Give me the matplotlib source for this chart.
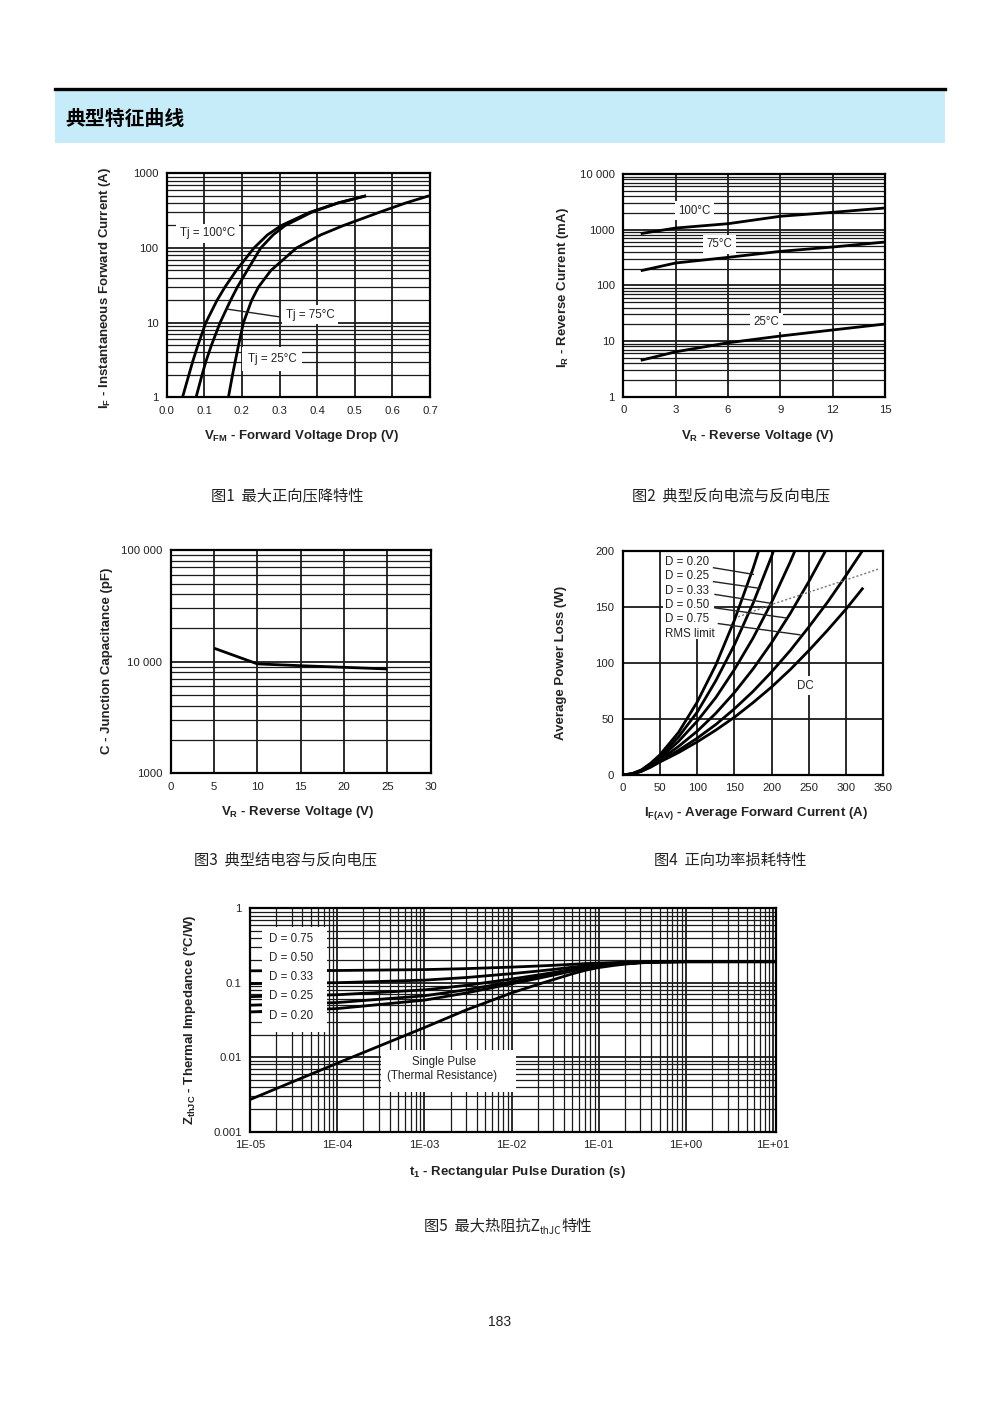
import matplotlib
matplotlib.use("Agg")
import matplotlib.pyplot as plt
from matplotlib.patches import Rectangle
from matplotlib.lines import Line2D
from matplotlib.ticker import LogLocator, FixedLocator, FixedFormatter, NullFormatter

plt.rcParams['font.family'] = ['Liberation Sans', 'DejaVu Sans']
plt.rcParams['mathtext.fontset'] = 'custom'
plt.rcParams['mathtext.rm'] = 'Liberation Sans:bold'
plt.rcParams['mathtext.it'] = 'Liberation Sans:bold'
plt.rcParams['mathtext.bf'] = 'Liberation Sans:bold'
plt.rcParams['mathtext.default'] = 'rm'
CJK = ['Noto Sans CJK SC', 'DejaVu Sans']

# ---------------- data ----------------
# Fig 1: forward characteristic
if_pts = [1, 2, 3, 5, 10, 20, 30, 50, 100, 150, 200, 300, 400, 500]
vf_100 = [0.042, 0.059, 0.069, 0.083, 0.104, 0.134, 0.155, 0.185, 0.232, 0.268, 0.305, 0.380, 0.455, 0.530]
vf_75 = [0.078, 0.094, 0.104, 0.119, 0.142, 0.170, 0.188, 0.214, 0.250, 0.283, 0.315, 0.385, 0.455, 0.530]
vf_25 = [0.164, 0.175, 0.182, 0.191, 0.204, 0.226, 0.244, 0.277, 0.345, 0.410, 0.470, 0.565, 0.635, 0.698]
fig1_xticks = [0.0, 0.1, 0.2, 0.3, 0.4, 0.5, 0.6, 0.7]
fig1_xlabels = ["0.0", "0.1", "0.2", "0.3", "0.4", "0.5", "0.6", "0.7"]
fig1_yticks = [1, 10, 100, 1000]
fig1_ylabels = ["1", "10", "100", "1000"]

# Fig 2: reverse current
vr2 = [1, 3, 6, 9, 12, 15]
ir_100 = [850, 1070, 1280, 1740, 2050, 2450]
ir_75 = [183, 252, 318, 408, 488, 600]
ir_25 = [4.5, 6.4, 9.3, 12.3, 15.8, 20.2]
fig2_xticks = [0, 3, 6, 9, 12, 15]
fig2_yticks = [1, 10, 100, 1000, 10000]
fig2_ylabels = ["1", "10", "100", "1000", "10 000"]

# Fig 3: junction capacitance
vr3 = [5, 10, 15, 20, 25]
cj = [13200, 9550, 9200, 8900, 8600]
fig3_xticks = [0, 5, 10, 15, 20, 25, 30]
fig3_yticks = [1000, 10000, 100000]
fig3_ylabels = ["1000", "10 000", "100 000"]

# Fig 4: power loss
i_av = [0, 12.5, 25, 37.5, 50, 75, 100, 125, 150, 175, 200, 225, 250, 275, 300, 325]
p_d20 = [0, 1.2, 4.5, 10.5, 18.0, 38.0, 65.0, 98.0, 138.0, 184.0, 236.0]
p_d25 = [0, 1.1, 4.2, 9.5, 16.5, 34.0, 56.0, 84.0, 116.0, 153.0, 195.0, 243.0]
p_d33 = [0, 1.0, 3.9, 8.6, 15.0, 30.0, 48.0, 69.0, 94.0, 122.0, 154.0, 190.0, 229.0]
p_d50 = [0, 0.9, 3.6, 7.8, 13.5, 25.5, 39.0, 55.0, 73.5, 94.5, 118.0, 144.0, 172.5, 203.0]
p_d75 = [0, 0.85, 3.4, 7.3, 12.3, 22.0, 32.8, 45.0, 59.0, 74.5, 92.0, 111.0, 132.0, 154.0, 178.0, 203.0]
i_dc = [0, 12.5, 25, 37.5, 50, 75, 100, 125, 150, 175, 200, 225, 250, 275, 300, 323]
p_dc = [0, 0.8, 3.2, 7.0, 11.6, 20.0, 29.5, 40.0, 51.5, 64.5, 78.5, 94.0, 111.0, 129.0, 148.0, 167.0]
i_rms = [155, 200, 250, 300, 345]
p_rms = [141, 152, 163, 174, 184]
duty_labels = ["D = 0.20", "D = 0.25", "D = 0.33", "D = 0.50", "D = 0.75"]
fig4_ticks_x = [0, 50, 100, 150, 200, 250, 300, 350]
fig4_ticks_y = [0, 50, 100, 150, 200]

# Fig 5: thermal impedance
t_p = [1e-5, 1e-4, 1e-3, 3e-3, 1e-2, 2e-2, 3e-2, 5e-2, 7e-2, 0.1, 0.15, 0.2, 0.3, 0.5, 1.0, 10.8]
z_single = [0.0027, 0.0083, 0.025, 0.043, 0.073, 0.095, 0.110, 0.132, 0.147, 0.160, 0.171, 0.178, 0.185, 0.190, 0.192, 0.192]
z_d75 = [0.1447, 0.1461, 0.1503, 0.1548, 0.1623, 0.1678, 0.1715, 0.1770, 0.1808, 0.1840, 0.1868, 0.1885, 0.1903, 0.1915, 0.192, 0.192]
z_d50 = [0.0974, 0.1002, 0.1085, 0.1175, 0.1325, 0.1435, 0.1510, 0.1620, 0.1695, 0.1760, 0.1815, 0.1850, 0.1885, 0.1910, 0.192, 0.192]
z_d33 = [0.0652, 0.0690, 0.0802, 0.0922, 0.1123, 0.1270, 0.1371, 0.1518, 0.1619, 0.1706, 0.1780, 0.1827, 0.1874, 0.1907, 0.192, 0.192]
z_d25 = [0.0500, 0.0542, 0.0668, 0.0803, 0.1028, 0.1193, 0.1305, 0.1470, 0.1583, 0.1680, 0.1763, 0.1815, 0.1868, 0.1905, 0.192, 0.192]
z_d20 = [0.0406, 0.0450, 0.0584, 0.0728, 0.0968, 0.1144, 0.1264, 0.1440, 0.1560, 0.1664, 0.1752, 0.1808, 0.1864, 0.1904, 0.192, 0.192]
legend5 = ["D = 0.75", "D = 0.50", "D = 0.33", "D = 0.25", "D = 0.20"]
fig5_xticks = [1e-5, 1e-4, 1e-3, 1e-2, 1e-1, 1, 10]
fig5_xlabels = ["1E-05", "1E-04", "1E-03", "1E-02", "1E-01", "1E+00", "1E+01"]
fig5_yticks = [0.001, 0.01, 0.1, 1]
fig5_ylabels = ["0.001", "0.01", "0.1", "1"]

captions = ["图1  最大正向压降特性", "图2  典型反向电流与反向电压", "图3  典型结电容与反向电压", "图4  正向功率损耗特性"]

# ---------------- figure ----------------
W, H = 1000, 1414
fig = plt.figure(figsize=(W / 100, H / 100), dpi=100)


def P(x, y):
    return x / W, 1 - y / H


def add_ax(x0, y0, x1, y1):
    ax = fig.add_axes([x0 / W, 1 - y1 / H, (x1 - x0) / W, (y1 - y0) / H])
    for s in ax.spines.values():
        s.set_linewidth(1.6)
        s.set_color('black')
        s.set_zorder(6)
    ax.tick_params(which='both', length=0, pad=6, labelsize=8.2, colors='#222222')
    ax.set_axisbelow(True)
    return ax


GMAJ = dict(color='#1a1a1a', lw=1.3)
GMIN = dict(color='#1a1a1a', lw=0.9)
CURVE = dict(color='black', lw=2.0, zorder=3, solid_capstyle='butt', solid_joinstyle='round')
LBL = dict(fontsize=9.5, fontweight='bold', color='#222222')
TXT = dict(fontsize=8.3, color='#222222')

# header
fig.add_artist(Rectangle(P(55, 143), 890 / W, 53 / H, transform=fig.transFigure,
                         facecolor='#c6ecf9', edgecolor='none'))
fig.add_artist(Line2D([55 / W, 945 / W], [1 - 88.5 / H] * 2, transform=fig.transFigure,
                      color='black', lw=2.4))
fig.text(*P(65, 118), "典型特征曲线", family=CJK, fontsize=14.3, fontweight='bold', va='center', ha='left')

# ---- Fig 1 ----
ax1 = add_ax(166.7, 173.3, 430, 397.3)
ax1.set_yscale('log')
ax1.set_xlim(0, 0.7)
ax1.set_ylim(1, 1000)
ax1.xaxis.set_major_locator(FixedLocator(fig1_xticks))
ax1.xaxis.set_major_formatter(FixedFormatter(fig1_xlabels))
ax1.yaxis.set_major_locator(FixedLocator(fig1_yticks))
ax1.yaxis.set_major_formatter(FixedFormatter(fig1_ylabels))
ax1.yaxis.set_minor_locator(LogLocator(base=10, subs=range(2, 10)))
ax1.yaxis.set_minor_formatter(NullFormatter())
ax1.grid(which='major', **GMAJ)
ax1.grid(which='minor', axis='y', **GMIN)
ax1.plot(vf_100, if_pts, **CURVE)
ax1.plot(vf_75, if_pts, **CURVE)
ax1.plot(vf_25, if_pts, **CURVE)
box = dict(facecolor='white', edgecolor='none', pad=2.5)
ax1.text(0.035, 158, "Tj = 100°C", va='center', ha='left', bbox=box, zorder=4, **TXT)
ax1.text(0.317, 12.7, "Tj = 75°C", va='center', ha='left', bbox=box, zorder=4, **TXT)
ax1.text(0.216, 3.26, "Tj = 25°C", va='center', ha='left',
         bbox=dict(facecolor='white', edgecolor='none', pad=4), zorder=4, **TXT)
ax1.plot([0.160, 0.297], [15.2, 12.0], color='#222222', lw=1.0, zorder=4)

fig.text(*P(105, 288), r"I$_F$ - Instantaneous Forward Current (A)", rotation=90, ha='center', va='center', **LBL)
fig.text(*P(302, 436), r"V$_{FM}$ - Forward Voltage Drop (V)", ha='center', va='center', **LBL)

# ---- Fig 2 ----
ax2 = add_ax(623.3, 174, 885, 396.7)
ax2.set_yscale('log')
ax2.set_xlim(0, 15)
ax2.set_ylim(1, 10000)
ax2.xaxis.set_major_locator(FixedLocator(fig2_xticks))
ax2.yaxis.set_major_locator(FixedLocator(fig2_yticks))
ax2.yaxis.set_major_formatter(FixedFormatter(fig2_ylabels))
ax2.yaxis.set_minor_locator(LogLocator(base=10, subs=range(2, 10)))
ax2.yaxis.set_minor_formatter(NullFormatter())
ax2.grid(which='major', **GMAJ)
ax2.grid(which='minor', axis='y', **GMIN)
ax2.plot(vr2, ir_100, **CURVE)
ax2.plot(vr2, ir_75, **CURVE)
ax2.plot(vr2, ir_25, **CURVE)
ax2.text(3.15, 2190, "100°C", va='center', ha='left', bbox=box, zorder=4, **TXT)
ax2.text(4.78, 546, "75°C", va='center', ha='left', bbox=box, zorder=4, **TXT)
ax2.text(7.45, 21.7, "25°C", va='center', ha='left', bbox=box, zorder=4, **TXT)
fig.text(*P(563, 288), r"I$_R$ - Reverse Current (mA)", rotation=90, ha='center', va='center', **LBL)
fig.text(*P(758, 436), r"V$_R$ - Reverse Voltage (V)", ha='center', va='center', **LBL)

# ---- Fig 3 ----
ax3 = add_ax(170.7, 550, 430.7, 773.3)
ax3.set_yscale('log')
ax3.set_xlim(0, 30)
ax3.set_ylim(1000, 100000)
ax3.xaxis.set_major_locator(FixedLocator(fig3_xticks))
ax3.yaxis.set_major_locator(FixedLocator(fig3_yticks))
ax3.yaxis.set_major_formatter(FixedFormatter(fig3_ylabels))
ax3.yaxis.set_minor_locator(LogLocator(base=10, subs=range(2, 10)))
ax3.yaxis.set_minor_formatter(NullFormatter())
ax3.grid(which='major', **GMAJ)
ax3.grid(which='minor', axis='y', **GMIN)
ax3.plot(vr3, cj, **CURVE)
fig.text(*P(107, 661), "C - Junction Capacitance (pF)", rotation=90, ha='center', va='center', **LBL)
fig.text(*P(298, 812), r"V$_R$ - Reverse Voltage (V)", ha='center', va='center', **LBL)

# ---- Fig 4 ----
ax4 = add_ax(622.7, 550.7, 883.3, 775)
ax4.set_xlim(0, 350)
ax4.set_ylim(0, 200)
ax4.xaxis.set_major_locator(FixedLocator(fig4_ticks_x))
ax4.yaxis.set_major_locator(FixedLocator(fig4_ticks_y))
ax4.grid(which='major', **GMAJ)
for pv in [p_d20, p_d25, p_d33, p_d50, p_d75]:
    ax4.plot(i_av[:len(pv)], pv, **CURVE)
ax4.plot(i_dc, p_dc, **CURVE)
ax4.plot(i_rms, p_rms, color='#777777', lw=1.0, ls=(0, (1.5, 1.5)), zorder=3)
ax4.add_patch(Rectangle((54, 121), 68, 79, facecolor='white', edgecolor='none', zorder=2.8))
lab_y = [190, 177, 164.5, 151.5, 139.5]
lead_start = [(122, 184.8), (122, 172.4), (124, 161), (124, 149), (128.5, 135)]
lead_end = [(175.5, 178.9), (184.4, 166.4), (200, 153), (220, 140), (238, 125)]
for lbl, yy, s, e in zip(duty_labels, lab_y, lead_start, lead_end):
    ax4.text(57, yy, lbl, va='center', ha='left', zorder=4, **TXT)
    ax4.plot([s[0], e[0]], [s[1], e[1]], color='#222222', lw=1.0, zorder=4)
ax4.text(57, 126, "RMS limit", va='center', ha='left', zorder=4, **TXT)
ax4.text(246, 79.5, "DC", va='center', ha='center', bbox=box, zorder=4, **TXT)
fig.text(*P(561, 663), "Average Power Loss (W)", rotation=90, ha='center', va='center', **LBL)
fig.text(*P(756, 814), r"I$_{F(AV)}$ - Average Forward Current (A)", ha='center', va='center', **LBL)

# ---- Fig 5 ----
ax5 = add_ax(250, 908.3, 776, 1131.7)
ax5.set_xscale('log')
ax5.set_yscale('log')
ax5.set_xlim(1e-5, 10.8)
ax5.set_ylim(0.001, 1)
ax5.xaxis.set_major_locator(FixedLocator(fig5_xticks))
ax5.xaxis.set_major_formatter(FixedFormatter(fig5_xlabels))
ax5.yaxis.set_major_locator(FixedLocator(fig5_yticks))
ax5.yaxis.set_major_formatter(FixedFormatter(fig5_ylabels))
for a in (ax5.xaxis, ax5.yaxis):
    a.set_minor_locator(LogLocator(base=10, subs=range(2, 10), numticks=20))
    a.set_minor_formatter(NullFormatter())
ax5.grid(which='major', **GMAJ)
ax5.grid(which='minor', **GMIN)
for zv in [z_single, z_d75, z_d50, z_d33, z_d25, z_d20]:
    ax5.plot(t_p, zv, **CURVE)
ax5.add_patch(Rectangle((1.37e-5, 0.0219), 7.7e-5 - 1.37e-5, 0.561 - 0.0219,
                        facecolor='white', edgecolor='none', zorder=3.5))
for lbl, yy in zip(legend5, [0.389, 0.215, 0.12, 0.0665, 0.0359]):
    ax5.text(1.66e-5, yy, lbl, va='center', ha='left', zorder=4, **TXT)
ax5.add_patch(Rectangle((3.15e-4, 0.00342), 0.0113 - 3.15e-4, 0.01253 - 0.00342,
                        facecolor='white', edgecolor='none', zorder=3.5))
fig.text(*P(444, 1062), "Single Pulse", ha='center', va='center', zorder=7, **TXT)
fig.text(*P(442, 1076), "(Thermal Resistance)", ha='center', va='center', zorder=7, **TXT)
fig.text(*P(189, 1020), r"Z$_{thJC}$ - Thermal Impedance (°C/W)", rotation=90, ha='center', va='center', **LBL)
fig.text(*P(517, 1172), r"t$_1$ - Rectangular Pulse Duration (s)", ha='center', va='center', **LBL)

# captions
cap_pos = [(287, 496), (731, 496), (285, 860), (730, 860)]
for c, (x, y) in zip(captions, cap_pos):
    fig.text(*P(x, y), c, family=CJK, fontsize=11, ha='center', va='center', color='#222222')

# caption 5 with subscript
fig.canvas.draw()
r = fig.canvas.get_renderer()
base_y = 1 - 1231 / H
t1 = fig.text(0, base_y, "图5  最大热阻抗Z", family=CJK, fontsize=11, ha='left', va='baseline', color='#222222')
t2 = fig.text(0, base_y - 3 / H, "thJC", family=CJK, fontsize=7.2, ha='left', va='baseline', color='#222222')
t3 = fig.text(0, base_y, "特性", family=CJK, fontsize=11, ha='left', va='baseline', color='#222222')
w1 = t1.get_window_extent(r).width
w2 = t2.get_window_extent(r).width
w3 = t3.get_window_extent(r).width
x0 = 508 - (w1 + w2 + w3) / 2
t1.set_x(x0 / W)
t2.set_x((x0 + w1) / W)
t3.set_x((x0 + w1 + w2) / W)

fig.text(*P(500, 1322), "183", fontsize=10, ha='center', va='center', color='#222222')

fig.savefig("out.png", dpi=100, facecolor='white')
